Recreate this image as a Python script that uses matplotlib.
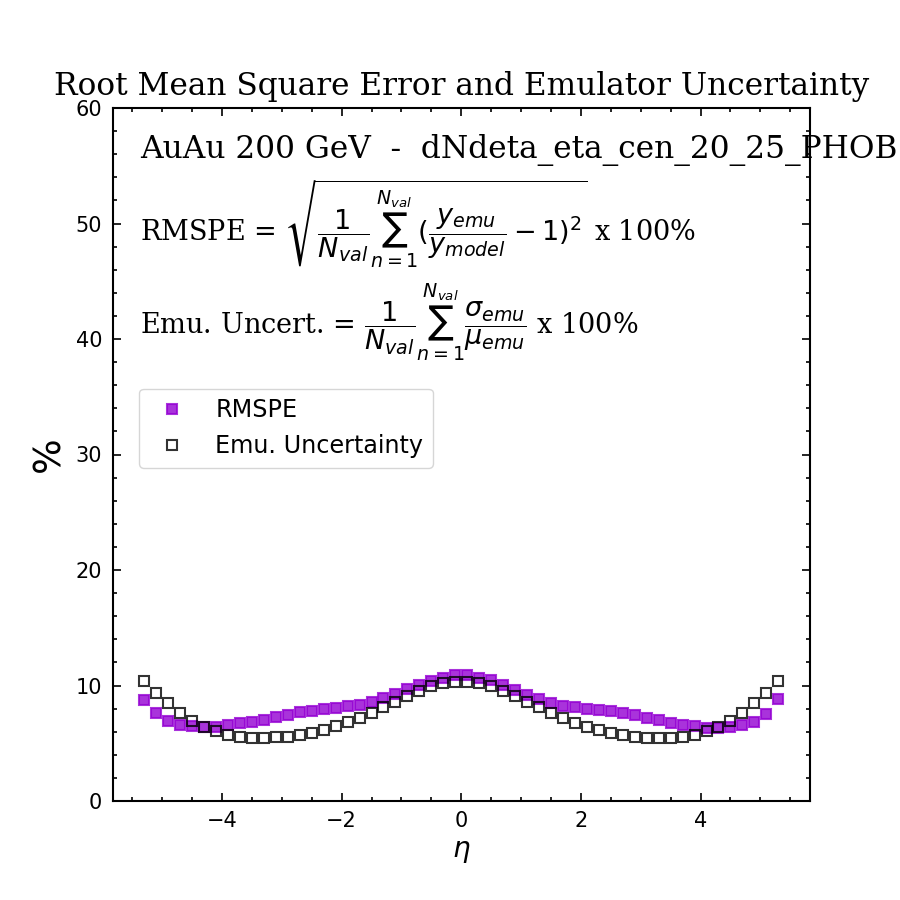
import numpy as np
import matplotlib

matplotlib.use("Agg")
import matplotlib.pyplot as plt
from matplotlib.ticker import MultipleLocator

# eta bin centres (PHOBOS, -5.3 .. 5.3)
eta = np.round(np.arange(-5.3, 5.31, 0.2), 1)

rmspe = [8.74, 7.65, 6.95, 6.61, 6.49, 6.41, 6.43, 6.55, 6.72, 6.87,
         7.04, 7.30, 7.47, 7.73, 7.82, 7.99, 8.08, 8.23, 8.31, 8.60,
         8.92, 9.26, 9.70, 10.07, 10.42, 10.68, 10.88,
         10.94, 10.68, 10.45, 10.02, 9.61, 9.18, 8.80, 8.51, 8.25,
         8.17, 7.99, 7.91, 7.82, 7.65, 7.47, 7.21, 7.04, 6.78, 6.61,
         6.49, 6.32, 6.32, 6.38, 6.55, 6.87, 7.56, 8.86]

emu_unc = [10.42, 9.38, 8.45, 7.65, 6.95, 6.38, 6.09, 5.69, 5.51, 5.43,
           5.45, 5.51, 5.57, 5.71, 5.89, 6.17, 6.49, 6.87, 7.21, 7.65,
           8.11, 8.57, 9.09, 9.55, 9.96, 10.19, 10.30,
           10.28, 10.19, 9.99, 9.52, 9.09, 8.60, 8.17, 7.65, 7.21,
           6.78, 6.43, 6.17, 5.91, 5.74, 5.57, 5.48, 5.48, 5.48, 5.57,
           5.71, 6.09, 6.43, 6.95, 7.65, 8.45, 9.38, 10.42]

system = "AuAu 200 GeV"
observable = "dNdeta_eta_cen_20_25_PHOB"

fig, ax = plt.subplots(figsize=(9, 9), dpi=100)

ax.plot(eta, rmspe, 's', color='darkviolet', alpha=0.8, markersize=7,
        markeredgewidth=1.5, label='RMSPE')
ax.plot(eta, emu_unc, 's', color='k', markerfacecolor='none', alpha=0.8,
        markersize=7, markeredgewidth=1.5, label='Emu. Uncertainty')

ax.set_ylim(0, 60)
ax.set_title('Root Mean Square Error and Emulator Uncertainty',
             family='serif', fontsize=22.5, pad=9)
ax.set_xlabel(r'$\eta$', fontsize=20)
ax.set_ylabel('%', fontsize=27, labelpad=6)

ax.text(0.04, 0.939, system + '  -  ' + observable, transform=ax.transAxes,
        family='serif', fontsize=22.5, va='center')
ax.text(0.04, 0.832,
        r'RMSPE = $\sqrt{\dfrac{1}{N_{val}}\sum_{n=1}^{N_{val}}(\dfrac{y_{emu}}{y_{model}}-1)^2}$ x 100%',
        transform=ax.transAxes, family='serif', fontsize=19.5, va='center')
ax.text(0.04, 0.690,
        r'Emu. Uncert. = $\dfrac{1}{N_{val}}\sum_{n=1}^{N_{val}}\dfrac{\sigma_{emu}}{\mu_{emu}}$ x 100%',
        transform=ax.transAxes, family='serif', fontsize=19.5, va='center')

ax.legend(loc='upper left', bbox_to_anchor=(0.038, 0.595), borderaxespad=0,
          fontsize=17.2)

ax.xaxis.set_minor_locator(MultipleLocator(0.5))
ax.yaxis.set_minor_locator(MultipleLocator(2))
ax.tick_params(which='both', direction='in', top=True, right=True,
               labelsize=15, width=1.2, pad=7.5)
ax.tick_params(which='major', length=6)
ax.tick_params(which='minor', length=3)
for sp in ax.spines.values():
    sp.set_linewidth(1.5)

fig.savefig('out.png')
